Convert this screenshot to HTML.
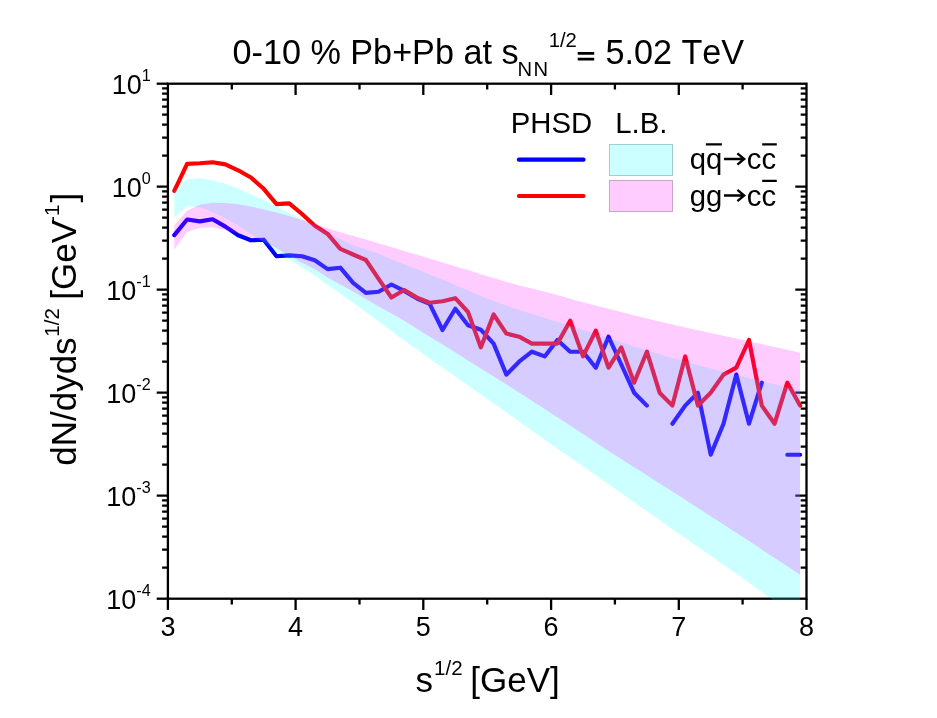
<!DOCTYPE html>
<html><head><meta charset="utf-8"><title>chart</title>
<style>html,body{margin:0;padding:0;background:#fff}svg{display:block;will-change:transform}</style>
</head><body>
<svg width="937" height="718" viewBox="0 0 937 718">
<rect width="937" height="718" fill="#fff"/>
<defs><clipPath id="cp"><rect x="167.9" y="82.7" width="638.6" height="517.2"/></clipPath></defs>
<g stroke="#000" stroke-width="2.3" fill="none" stroke-linecap="butt">
<rect x="167.9" y="83.7" width="638.6" height="515.0"/>
<path d="M167.9 598.7v11.2"/>
<path d="M231.8 598.7v5.8M231.8 83.7v5.8"/>
<path d="M295.6 598.7v11.2M295.6 83.7v11.2"/>
<path d="M359.5 598.7v5.8M359.5 83.7v5.8"/>
<path d="M423.3 598.7v11.2M423.3 83.7v11.2"/>
<path d="M487.2 598.7v5.8M487.2 83.7v5.8"/>
<path d="M551.1 598.7v11.2M551.1 83.7v11.2"/>
<path d="M614.9 598.7v5.8M614.9 83.7v5.8"/>
<path d="M678.8 598.7v11.2M678.8 83.7v11.2"/>
<path d="M742.6 598.7v5.8M742.6 83.7v5.8"/>
<path d="M806.5 598.7v11.2"/>
<path d="M167.9 83.7h-11.2"/>
<path d="M167.9 186.7h-11.2M806.5 186.7h-11.2"/>
<path d="M167.9 155.7h-5.8M806.5 155.7h-5.8"/>
<path d="M167.9 137.6h-5.8M806.5 137.6h-5.8"/>
<path d="M167.9 124.7h-5.8M806.5 124.7h-5.8"/>
<path d="M167.9 114.7h-5.8M806.5 114.7h-5.8"/>
<path d="M167.9 106.6h-5.8M806.5 106.6h-5.8"/>
<path d="M167.9 99.7h-5.8M806.5 99.7h-5.8"/>
<path d="M167.9 93.7h-5.8M806.5 93.7h-5.8"/>
<path d="M167.9 88.4h-5.8M806.5 88.4h-5.8"/>
<path d="M167.9 289.7h-11.2M806.5 289.7h-11.2"/>
<path d="M167.9 258.7h-5.8M806.5 258.7h-5.8"/>
<path d="M167.9 240.6h-5.8M806.5 240.6h-5.8"/>
<path d="M167.9 227.7h-5.8M806.5 227.7h-5.8"/>
<path d="M167.9 217.7h-5.8M806.5 217.7h-5.8"/>
<path d="M167.9 209.6h-5.8M806.5 209.6h-5.8"/>
<path d="M167.9 202.7h-5.8M806.5 202.7h-5.8"/>
<path d="M167.9 196.7h-5.8M806.5 196.7h-5.8"/>
<path d="M167.9 191.4h-5.8M806.5 191.4h-5.8"/>
<path d="M167.9 392.7h-11.2M806.5 392.7h-11.2"/>
<path d="M167.9 361.7h-5.8M806.5 361.7h-5.8"/>
<path d="M167.9 343.6h-5.8M806.5 343.6h-5.8"/>
<path d="M167.9 330.7h-5.8M806.5 330.7h-5.8"/>
<path d="M167.9 320.7h-5.8M806.5 320.7h-5.8"/>
<path d="M167.9 312.6h-5.8M806.5 312.6h-5.8"/>
<path d="M167.9 305.7h-5.8M806.5 305.7h-5.8"/>
<path d="M167.9 299.7h-5.8M806.5 299.7h-5.8"/>
<path d="M167.9 294.4h-5.8M806.5 294.4h-5.8"/>
<path d="M167.9 495.7h-11.2M806.5 495.7h-11.2"/>
<path d="M167.9 464.7h-5.8M806.5 464.7h-5.8"/>
<path d="M167.9 446.6h-5.8M806.5 446.6h-5.8"/>
<path d="M167.9 433.7h-5.8M806.5 433.7h-5.8"/>
<path d="M167.9 423.7h-5.8M806.5 423.7h-5.8"/>
<path d="M167.9 415.6h-5.8M806.5 415.6h-5.8"/>
<path d="M167.9 408.7h-5.8M806.5 408.7h-5.8"/>
<path d="M167.9 402.7h-5.8M806.5 402.7h-5.8"/>
<path d="M167.9 397.4h-5.8M806.5 397.4h-5.8"/>
<path d="M167.9 598.7h-11.2"/>
<path d="M167.9 567.7h-5.8M806.5 567.7h-5.8"/>
<path d="M167.9 549.6h-5.8M806.5 549.6h-5.8"/>
<path d="M167.9 536.7h-5.8M806.5 536.7h-5.8"/>
<path d="M167.9 526.7h-5.8M806.5 526.7h-5.8"/>
<path d="M167.9 518.6h-5.8M806.5 518.6h-5.8"/>
<path d="M167.9 511.7h-5.8M806.5 511.7h-5.8"/>
<path d="M167.9 505.7h-5.8M806.5 505.7h-5.8"/>
<path d="M167.9 500.4h-5.8M806.5 500.4h-5.8"/>
</g>
<g fill="none" stroke-width="4.15" stroke-linejoin="round" stroke-linecap="round">
<polyline stroke="#0000ff" points="174.3,235.1 187.1,219.5 199.8,221.4 212.6,219.3 225.4,226.6 238.1,235.2 250.9,240.3 263.7,239.7 276.5,256.2 289.2,255.4 302.0,256.2 314.8,260.3 327.6,269.1 340.3,267.7 353.1,282.9 365.9,292.9 378.6,291.8 391.4,284.5 404.2,290.9 417.0,298.5 429.7,303.8 442.5,330.0 455.3,308.8 468.0,325.2 480.8,329.7 493.6,343.6 506.4,374.6 519.1,361.7 531.9,351.7 544.7,356.4 557.4,340.0 570.2,351.7 583.0,351.7 595.8,367.7 608.5,336.7 621.3,364.5 634.1,392.7 646.9,405.6"/>
<polyline stroke="#0000ff" points="672.4,423.7 685.2,405.6 697.9,392.7 710.7,454.7 723.5,423.7 736.3,374.6 749.0,423.7 761.8,382.7"/>
<polyline stroke="#0000ff" points="787.3,454.7 800.1,454.7"/>
<polyline stroke="#ff0000" points="174.3,190.8 187.1,163.9 199.8,163.2 212.6,162.2 225.4,164.4 238.1,170.3 250.9,177.5 263.7,188.8 276.5,204.1 289.2,203.4 302.0,214.0 314.8,225.7 327.6,233.9 340.3,248.9 353.1,254.5 365.9,260.0 378.6,278.8 391.4,297.5 404.2,290.0 417.0,297.6 429.7,302.7 442.5,301.2 455.3,298.2 468.0,312.0 480.8,347.4 493.6,314.5 506.4,333.6 519.1,336.7 531.9,343.6 544.7,343.6 557.4,343.6 570.2,320.7 583.0,356.4 595.8,330.7 608.5,367.7 621.3,347.4 634.1,382.7 646.9,351.7 659.6,392.7 672.4,405.6 685.2,356.4 697.9,405.6 710.7,392.7 723.5,374.6 736.3,367.7 749.0,340.0 761.8,405.6 774.6,423.7 787.3,382.7 800.1,405.6"/>
</g>
<g clip-path="url(#cp)">
<polygon fill="#00ffff" fill-opacity="0.2" points="174.3,190.7 187.1,179.3 199.8,178.3 212.6,180.2 225.4,183.8 238.1,188.6 250.9,194.2 263.7,200.3 276.5,206.8 289.2,212.9 302.0,219.3 314.8,226.0 327.6,232.6 340.3,239.0 353.1,245.2 365.9,249.6 378.6,253.8 391.4,259.2 404.2,264.3 417.0,269.3 429.7,274.4 442.5,279.6 455.3,285.2 468.0,290.6 480.8,295.9 493.6,301.0 506.4,305.6 519.1,309.9 531.9,313.9 544.7,317.9 557.4,321.9 570.2,325.9 583.0,329.9 595.8,334.0 608.5,338.1 621.3,342.3 634.1,346.4 646.9,350.3 659.6,354.2 672.4,357.9 685.2,361.5 697.9,365.0 710.7,368.5 723.5,371.8 736.3,374.9 749.0,378.0 761.8,381.1 774.6,384.3 787.3,387.4 800.1,390.4 800.1,618.5 787.3,609.9 774.6,601.1 761.8,592.0 749.0,582.8 736.3,573.7 723.5,564.7 710.7,555.8 697.9,546.9 685.2,538.0 672.4,529.2 659.6,520.3 646.9,511.3 634.1,502.3 621.3,493.2 608.5,484.2 595.8,475.3 583.0,466.4 570.2,457.6 557.4,448.7 544.7,439.8 531.9,430.7 519.1,421.5 506.4,412.4 493.6,403.4 480.8,394.4 468.0,385.4 455.3,376.5 442.5,367.6 429.7,358.7 417.0,349.5 404.2,340.2 391.4,330.9 378.6,321.5 365.9,312.1 353.1,302.8 340.3,293.8 327.6,284.9 314.8,275.6 302.0,267.5 289.2,259.4 276.5,250.8 263.7,242.0 250.9,234.0 238.1,225.4 225.4,218.2 212.6,212.1 199.8,207.3 187.1,206.2 174.3,217.4"/>
<polygon fill="#ff00ff" fill-opacity="0.2" points="174.3,225.2 187.1,210.8 199.8,204.7 212.6,202.8 225.4,202.9 238.1,204.3 250.9,206.5 263.7,209.4 276.5,212.5 289.2,216.0 302.0,219.9 314.8,224.2 327.6,228.3 340.3,232.2 353.1,235.9 365.9,239.6 378.6,243.3 391.4,247.1 404.2,251.0 417.0,254.8 429.7,258.6 442.5,262.4 455.3,266.2 468.0,270.1 480.8,274.2 493.6,278.1 506.4,281.9 519.1,285.4 531.9,288.6 544.7,291.8 557.4,295.1 570.2,298.7 583.0,302.2 595.8,305.5 608.5,308.7 621.3,311.9 634.1,315.3 646.9,318.5 659.6,321.6 672.4,324.5 685.2,327.4 697.9,330.2 710.7,333.0 723.5,335.8 736.3,338.6 749.0,341.4 761.8,344.1 774.6,346.9 787.3,349.8 800.1,352.7 800.1,574.8 787.3,566.3 774.6,557.9 761.8,549.5 749.0,541.1 736.3,532.7 723.5,524.4 710.7,516.2 697.9,507.9 685.2,499.7 672.4,491.5 659.6,483.4 646.9,475.3 634.1,467.3 621.3,459.1 608.5,450.9 595.8,442.5 583.0,434.0 570.2,425.5 557.4,417.2 544.7,408.9 531.9,400.7 519.1,392.6 506.4,384.6 493.6,376.6 480.8,368.6 468.0,360.4 455.3,352.4 442.5,344.6 429.7,336.8 417.0,328.7 404.2,320.7 391.4,313.5 378.6,306.5 365.9,299.0 353.1,291.6 340.3,284.6 327.6,277.4 314.8,269.3 302.0,262.8 289.2,255.5 276.5,248.3 263.7,241.0 250.9,237.2 238.1,233.5 225.4,230.0 212.6,227.3 199.8,227.9 187.1,232.1 174.3,249.6"/>
</g>
<g font-family="'Liberation Sans', sans-serif" fill="#000" style="font-kerning:none">
<text x="167.9" y="636.3" font-size="27" text-anchor="middle">3</text>
<text x="295.6" y="636.3" font-size="27" text-anchor="middle">4</text>
<text x="423.3" y="636.3" font-size="27" text-anchor="middle">5</text>
<text x="551.1" y="636.3" font-size="27" text-anchor="middle">6</text>
<text x="678.8" y="636.3" font-size="27" text-anchor="middle">7</text>
<text x="806.5" y="636.3" font-size="27" text-anchor="middle">8</text>
<text x="150.7" y="94.0" font-size="27" text-anchor="end">10<tspan font-size="16.2" dy="-13.0">1</tspan></text>
<text x="150.7" y="197.0" font-size="27" text-anchor="end">10<tspan font-size="16.2" dy="-13.0">0</tspan></text>
<text x="150.7" y="300.0" font-size="27" text-anchor="end">10<tspan font-size="16.2" dy="-13.0">-1</tspan></text>
<text x="150.7" y="403.0" font-size="27" text-anchor="end">10<tspan font-size="16.2" dy="-13.0">-2</tspan></text>
<text x="150.7" y="506.0" font-size="27" text-anchor="end">10<tspan font-size="16.2" dy="-13.0">-3</tspan></text>
<text x="150.7" y="609.0" font-size="27" text-anchor="end">10<tspan font-size="16.2" dy="-13.0">-4</tspan></text>
<text y="64" font-size="34.2"><tspan x="232.5">0-10 % Pb+Pb at s</tspan><tspan x="517.6" font-size="20.2" dy="11.6" letter-spacing="1.4">NN</tspan><tspan x="548.7" font-size="20.3" dy="-28.7" letter-spacing="0">1/2</tspan><tspan x="605.4" dy="17.1" font-size="34.2">5.02 TeV</tspan></text>
<path d="M577.7 53.3H594.2M577.7 59.15H594.2" stroke="#000" stroke-width="2.65" fill="none"/>
<text x="415.4" y="691.6" font-size="35">s<tspan font-size="20.5" dy="-16.8" dx="1.2">1/2</tspan><tspan dy="16.8" dx="-2"> [GeV]</tspan></text>
<text transform="translate(75.6 465.8) rotate(-90)" font-size="35">dN/dyds<tspan font-size="20.5" dy="-16.8" dx="0.7">1/2</tspan><tspan dy="16.8" dx="-1.2"> [GeV</tspan><tspan font-size="20.5" dy="-16.8" dx="-3.0">-1</tspan><tspan dy="16.8" dx="2.2">]</tspan></text>
<text x="510.8" y="133" font-size="29.3">PHSD</text>
<text x="615.3" y="133" font-size="29.3">L.B.</text>
<text x="689.7" y="169.3" font-size="29.3">qq</text>
<text x="746.8" y="169.3" font-size="29.3">cc</text>
<text x="689.7" y="205.7" font-size="29.3">gg</text>
<text x="746.8" y="205.7" font-size="29.3">cc</text>
</g>
<path d="M518.9 159.7H583.5" stroke="#0000ff" stroke-width="4.2" stroke-linecap="round"/>
<path d="M518.9 196H583.5" stroke="#ff0000" stroke-width="4.2" stroke-linecap="round"/>
<rect x="609.5" y="144.5" width="63" height="31" fill="#ccffff" stroke="#a3cccc" stroke-width="1"/>
<rect x="609.5" y="180.5" width="63" height="31" fill="#ffccff" stroke="#cca3cc" stroke-width="1"/>
<g stroke="#000" stroke-width="2.3" fill="none">
<path d="M705.9 144.4H721.9M762.2 144.4H776.8M762.2 180.9H776.8"/>
<path d="M724 159.0H743.6M737.4 153.4L744.2 159.0L737.4 164.6"/>
<path d="M724 195.5H743.6M737.4 189.9L744.2 195.5L737.4 201.1"/>
</g>
</svg>
</body></html>
